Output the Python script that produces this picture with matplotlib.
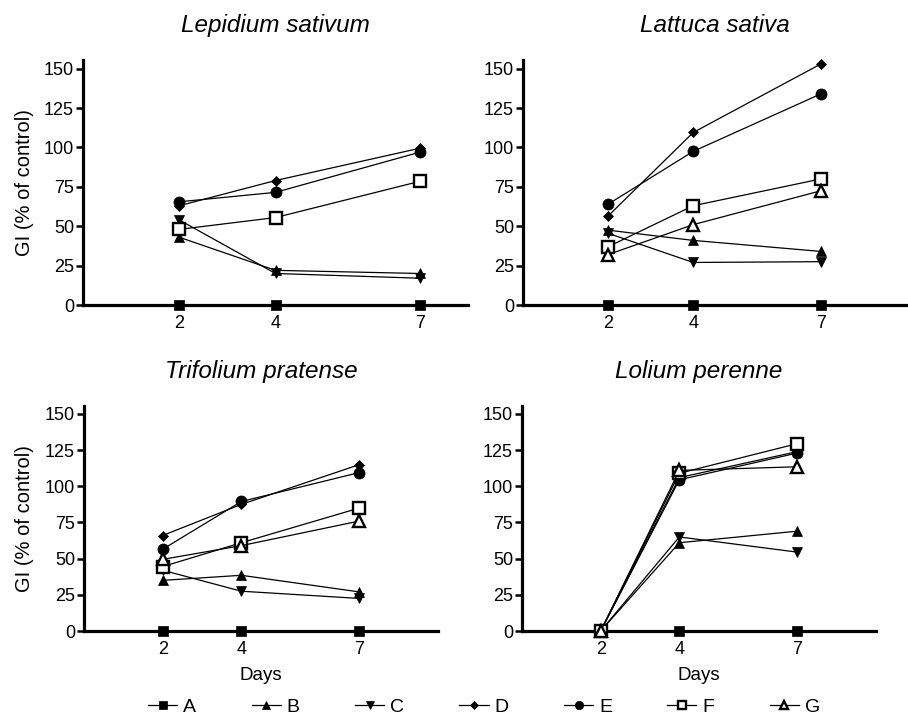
"""
Germination index (GI) over time for four plant species.
"""

import matplotlib

matplotlib.use("Agg")
import matplotlib.pyplot as plt

plt.rcParams["font.family"] = ["Liberation Sans", "DejaVu Sans"]

# x values (days)
days = [2, 4, 7]
day_ticks = [2, 4, 7]
gi_ticks = [0, 25, 50, 75, 100, 125, 150]

treatments = ["A", "B", "C", "D", "E", "F", "G"]

# GI values per species, one list per treatment (None = not measured)
lepidium_A = [0, 0, 0]
lepidium_B = [43, 22, 20]
lepidium_C = [54, 20, 17]
lepidium_D = [63, 79, 99.5]
lepidium_E = [65.5, 71.5, 97]
lepidium_F = [48, 55.5, 78.5]
lepidium_G = None

lattuca_A = [0, 0, 0]
lattuca_B = [47.5, 41, 34]
lattuca_C = [45.5, 27, 27.5]
lattuca_D = [56.5, 109.5, 153]
lattuca_E = [64, 97.5, 134]
lattuca_F = [37, 63, 80]
lattuca_G = [32, 51, 72.5]

trifolium_A = [0, 0, 0]
trifolium_B = [35, 38.5, 27]
trifolium_C = [42, 27.5, 22.5]
trifolium_D = [66, 87.5, 115]
trifolium_E = [56.5, 89.5, 109.5]
trifolium_F = [44.5, 61, 85]
trifolium_G = [49.5, 59, 76]

lolium_A = [0, 0, 0]
lolium_B = [0, 61, 69]
lolium_C = [0, 65, 54.5]
lolium_D = [0, 106, 124]
lolium_E = [0, 104.5, 123]
lolium_F = [0, 109, 129.5]
lolium_G = [0, 111, 113.5]

species = [
    ("Lepidium sativum", [lepidium_A, lepidium_B, lepidium_C, lepidium_D,
                          lepidium_E, lepidium_F, lepidium_G]),
    ("Lattuca sativa", [lattuca_A, lattuca_B, lattuca_C, lattuca_D,
                        lattuca_E, lattuca_F, lattuca_G]),
    ("Trifolium pratense", [trifolium_A, trifolium_B, trifolium_C, trifolium_D,
                            trifolium_E, trifolium_F, trifolium_G]),
    ("Lolium perenne", [lolium_A, lolium_B, lolium_C, lolium_D,
                        lolium_E, lolium_F, lolium_G]),
]

# marker style per treatment: (marker, size, filled)
STYLES = {
    "A": ("s", 7.0, True),
    "B": ("^", 7.5, True),
    "C": ("v", 7.5, True),
    "D": ("D", 5.0, True),
    "E": ("o", 8.0, True),
    "F": ("s", 8.0, False),
    "G": ("^", 8.5, False),
}

W, H = 908, 715
fig = plt.figure(figsize=(W / 100, H / 100), dpi=100)


def px_axes(left, right, top, bottom):
    """axes from pixel box (top-left origin)"""
    return fig.add_axes([left / W, 1 - bottom / H, (right - left) / W, (bottom - top) / H])


# panel layout: (left, right, top, bottom, xmax)
layout = [
    (83, 468, 60, 305, 8.0),
    (523, 906, 60, 305, 9.0),
    (84, 438, 406, 631, 9.0),
    (522, 876, 406, 631, 9.0),
]

handles = []
for i, ((title, series), (l, r, t, b, xmax)) in enumerate(zip(species, layout)):
    ax = px_axes(l, r, t, b)

    for name, vals in zip(treatments, series):
        if vals is None:
            continue
        marker, ms, filled = STYLES[name]
        (line,) = ax.plot(
            days,
            vals,
            color="black",
            linewidth=0.9,
            marker=marker,
            markersize=ms,
            markerfacecolor="black" if filled else "white",
            markeredgecolor="black",
            markeredgewidth=1.7 if not filled else 0.5,
            clip_on=False,
            zorder=3,
            label=name,
        )
        if i == 1:
            handles.append(line)

    ax.set_xlim(0, xmax)
    ax.set_ylim(0, 155.5)
    ax.set_xticks(day_ticks)
    ax.set_yticks(gi_ticks)

    for side in ("top", "right"):
        ax.spines[side].set_visible(False)
    for side in ("left", "bottom"):
        ax.spines[side].set_linewidth(2.3)

    ax.tick_params(axis="y", direction="out", length=5, width=1.8, labelsize=13, pad=1.5)
    ax.tick_params(axis="x", length=0, labelsize=13, pad=7)

    ax.set_title(title, fontsize=17.5, fontstyle="italic", pad=20)

    if i % 2 == 0:
        ax.set_ylabel("GI (% of control)", fontsize=14.5, va="center")
        ax.yaxis.set_label_coords((25 - l) / (r - l), 0.5)
    if i >= 2:
        ax.set_xlabel("Days", fontsize=13.5, va="center")
        ax.xaxis.set_label_coords(0.5, (b - 676) / (b - t))

# shared legend along the bottom
fig.legend(
    handles=handles,
    labels=treatments,
    loc="center",
    bbox_to_anchor=(484 / W, 1 - 707 / H),
    ncol=7,
    frameon=False,
    fontsize=14,
    handlelength=1.5,
    handletextpad=0.3,
    columnspacing=2.85,
    markerscale=0.75,
)

fig.savefig("out.png", dpi=100)
